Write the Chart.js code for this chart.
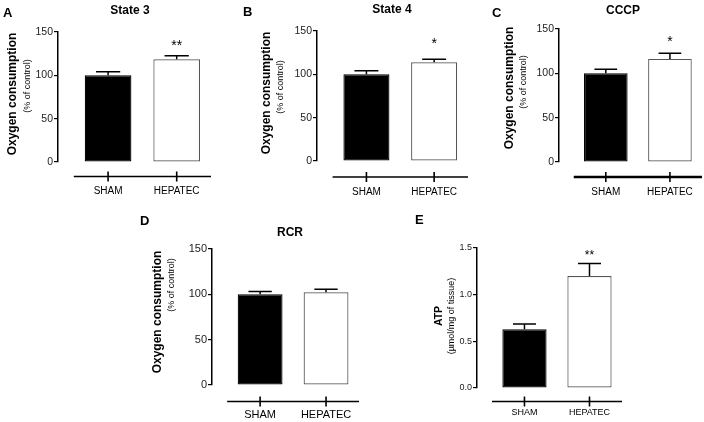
<!DOCTYPE html>
<html>
<head>
<meta charset="utf-8">
<script src="https://cdn.jsdelivr.net/npm/chart.js@4.4.1/dist/chart.umd.min.js"></script>
<style>
    html, body { margin: 0; padding: 0; background: #fff; }
    #wrap { position: relative; width: 704px; height: 422px; overflow: hidden; }
    #wrap canvas { position: absolute; left: 0; top: 0; }
</style>
</head>
<body>
<div id="wrap"></div>
<script>
// Chart data
const categories = ['SHAM', 'HEPATEC'];
const panelLetters = ['A', 'B', 'C', 'D', 'E'];
const panelTitles = ['State 3', 'State 4', 'CCCP', 'RCR', ''];
const yTitles = ['Oxygen consumption', 'Oxygen consumption', 'Oxygen consumption', 'Oxygen consumption', 'ATP'];
const ySubtitles = ['(% of control)', '(% of control)', '(% of control)', '(% of control)', '(\u00b5mol/mg of tissue)'];
const meanValues = [
    [100, 118.5],
    [100, 114],
    [100, 116.3],
    [100, 102.2],
    [0.63, 1.2]
];
const semValues = [
    [4, 4.2],
    [4, 3.3],
    [4.5, 6.3],
    [3, 3.3],
    [0.055, 0.135]
];
const significance = [
    ['', '**'],
    ['', '*'],
    ['', '*'],
    ['', ''],
    ['', '**']
];
const yMax = [150, 150, 150, 150, 1.5];
const yStep = [50, 50, 50, 50, 0.5];
const yDecimals = [0, 0, 0, 0, 1];

// Layout of each panel on the page (pixels)
const layouts = [
    { axisX: 58,  rightX: 211, top: 32,  bottom: 162, lineY: 176.5, labelY: 191, title: [130, 11],  letter: [3, 13],   yt: [13, 94],   ys: [28, 86],   tickFont: 10.5, labelFont: 10, starGap: 6,  lineW: 1.6 },
    { axisX: 317, rightX: 468, top: 31,  bottom: 161, lineY: 177,   labelY: 192.5, title: [392, 9.5], letter: [243, 12.5], yt: [267, 93], ys: [281, 87], tickFont: 10.5, labelFont: 10, starGap: 11, lineW: 1.6 },
    { axisX: 559, rightX: 702, top: 29,  bottom: 162, lineY: 177,   labelY: 192, title: [623, 11],  letter: [492, 13], yt: [510, 88],  ys: [524, 82],  tickFont: 10.5, labelFont: 10, starGap: 7,  lineW: 2.4 },
    { axisX: 212, rightX: 359, top: 249, bottom: 385, lineY: 401.5, labelY: 415, title: [290, 233], letter: [140, 221], yt: [158, 312], ys: [172, 285], tickFont: 11, labelFont: 11, starGap: 6, lineW: 1.6 },
    { axisX: 477, rightX: 622, top: 248, bottom: 388, lineY: 401.5, labelY: 413, title: [0, 0],     letter: [415, 220], yt: [439, 316], ys: [452, 316], tickFont: 9, labelFont: 9, starGap: 4, lineW: 1.6 }
];

const FONT = '"Liberation Sans", Arial, Helvetica, sans-serif';
const Y_AXIS_WIDTH = 40;
const X_MIN = -0.73;
const X_MAX = 1.5;

// Draws panel letter, title, y titles, error bars, stars and the offset category axis
const panelDecor = {
    id: 'panelDecor',
    afterDatasetsDraw(chart, args, opts) {
        const p = opts.panel;
        const L = layouts[p];
        const ctx = chart.ctx;
        const xs = chart.scales.x;
        const ys = chart.scales.y;
        const meta = chart.getDatasetMeta(0);

        ctx.save();
        ctx.fillStyle = '#000';
        ctx.strokeStyle = '#000';

        // error bars (upper only) and significance marks
        meta.data.forEach((bar, i) => {
            const v = meanValues[p][i];
            const e = semValues[p][i];
            const yTop = ys.getPixelForValue(v + e);
            const yBar = ys.getPixelForValue(v);
            const half = bar.width * 0.26;
            ctx.lineWidth = 1.5;
            ctx.beginPath();
            ctx.moveTo(bar.x, yBar);
            ctx.lineTo(bar.x, yTop);
            ctx.moveTo(bar.x - half, yTop);
            ctx.lineTo(bar.x + half, yTop);
            ctx.stroke();

            if (significance[p][i]) {
                ctx.font = (p === 4 ? 12 : 14) + 'px ' + FONT;
                ctx.textAlign = 'center';
                ctx.textBaseline = 'alphabetic';
                ctx.fillText(significance[p][i], bar.x, yTop - L.starGap);
            }
        });

        // offset category axis
        const x0 = xs.getPixelForValue(-0.5);
        const x1 = xs.getPixelForValue(categories.length - 0.5);
        ctx.lineWidth = L.lineW;
        ctx.beginPath();
        ctx.moveTo(x0, L.lineY);
        ctx.lineTo(x1, L.lineY);
        ctx.stroke();
        ctx.font = L.labelFont + 'px ' + FONT;
        ctx.textAlign = 'center';
        ctx.textBaseline = 'middle';
        categories.forEach((c, i) => {
            const cx = xs.getPixelForValue(i);
            ctx.lineWidth = 1.6;
            ctx.beginPath();
            ctx.moveTo(cx, L.lineY - 5);
            ctx.lineTo(cx, L.lineY + 5);
            ctx.stroke();
            ctx.fillText(c, cx, L.labelY);
        });

        // panel letter and title
        ctx.font = 'bold 13px ' + FONT;
        ctx.textAlign = 'left';
        ctx.fillText(panelLetters[p], L.letter[0], L.letter[1]);
        if (panelTitles[p]) {
            ctx.font = 'bold 12px ' + FONT;
            ctx.textAlign = 'center';
            ctx.fillText(panelTitles[p], L.title[0], L.title[1]);
        }

        // rotated y titles
        ctx.textAlign = 'center';
        ctx.save();
        ctx.translate(L.yt[0], L.yt[1]);
        ctx.rotate(-Math.PI / 2);
        ctx.font = 'bold ' + (p === 4 ? 10.5 : 12) + 'px ' + FONT;
        ctx.fillText(yTitles[p], 0, 0);
        ctx.restore();
        ctx.save();
        ctx.translate(L.ys[0], L.ys[1]);
        ctx.rotate(-Math.PI / 2);
        ctx.font = '9px ' + FONT;
        ctx.fillText(ySubtitles[p], 0, 0);
        ctx.restore();

        ctx.restore();
    }
};

const wrap = document.getElementById('wrap');

meanValues.forEach((values, p) => {
    const L = layouts[p];
    const canvas = document.createElement('canvas');
    canvas.width = 704;
    canvas.height = 422;
    wrap.appendChild(canvas);

    new Chart(canvas, {
        type: 'bar',
        data: {
            datasets: [{
                data: values.map((v, i) => ({ x: i, y: v })),
                backgroundColor: ['#000000', '#ffffff'],
                borderColor: ['#000000', '#555555'],
                borderWidth: 1.2,
                borderSkipped: false,
                barPercentage: 0.68,
                categoryPercentage: 1
            }]
        },
        options: {
            responsive: false,
            animation: false,
            devicePixelRatio: 1,
            layout: {
                padding: {
                    left: L.axisX - Y_AXIS_WIDTH,
                    right: 704 - L.rightX,
                    top: L.top,
                    bottom: 422 - L.bottom
                }
            },
            scales: {
                x: {
                    type: 'linear',
                    display: false,
                    offset: false,
                    grid: { offset: false },
                    min: X_MIN,
                    max: X_MAX,
                    afterBuildTicks: scale => {
                        scale.ticks = categories.map((c, i) => ({ value: i }));
                    }
                },
                y: {
                    min: 0,
                    max: yMax[p],
                    afterFit: scale => { scale.width = Y_AXIS_WIDTH; },
                    border: { display: true, color: '#000', width: 1.5 },
                    grid: { display: true, drawOnChartArea: false, drawTicks: true, tickLength: 4, color: '#000', lineWidth: 1.2 },
                    ticks: {
                        stepSize: yStep[p],
                        padding: 1,
                        color: '#222',
                        font: { family: FONT, size: L.tickFont },
                        callback: v => Number(v).toFixed(yDecimals[p])
                    }
                }
            },
            plugins: {
                legend: { display: false },
                title: { display: false },
                tooltip: { enabled: false },
                panelDecor: { panel: p }
            }
        },
        plugins: [panelDecor]
    });
});
</script>
</body>
</html>
